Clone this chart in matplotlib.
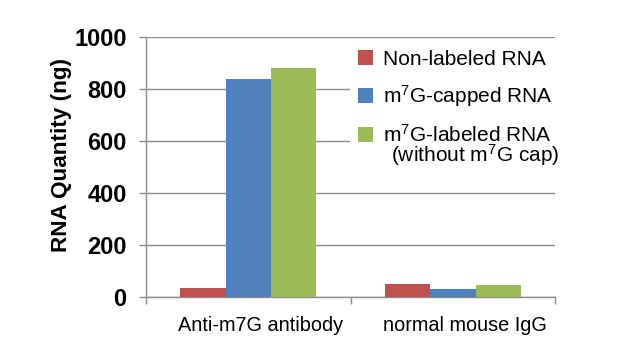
import numpy as np
import matplotlib
matplotlib.use("Agg")
import matplotlib.pyplot as plt

plt.rcParams['font.family'] = ['Liberation Sans', 'DejaVu Sans']
plt.rcParams['mathtext.fontset'] = 'custom'
plt.rcParams['mathtext.rm'] = 'Liberation Sans'
plt.rcParams['mathtext.it'] = 'Liberation Sans'

categories = ['Anti-m7G antibody', 'normal mouse IgG']
series = ['Non-labeled RNA', 'm$^7$G-capped RNA', 'm$^7$G-labeled RNA']
series_note = '(without m$^7$G cap)'
non_labeled = [36, 49]
capped = [837, 31]
labeled = [880, 46]
yticks = [0, 200, 400, 600, 800, 1000]

colors = ['#C0504D', '#4F81BD', '#9BBB59']
grey = '#8C8C8C'

fig = plt.figure(figsize=(6.28, 3.64), dpi=100)
ax = fig.add_axes([0.2325, 0.184, 0.6515, 0.714])

x = np.arange(len(categories))
w = 0.222
for i, (vals, lab) in enumerate(zip([non_labeled, capped, labeled], series)):
    ax.bar(x + (i - 1) * w, vals, w, color=colors[i], label=lab, zorder=3)

ax.set_xlim(-0.5, len(categories) - 0.5)
ax.set_ylim(0, 1000)
ax.set_yticks(yticks)
ax.set_yticklabels([str(v) for v in yticks], fontsize=17, fontweight='bold')
ax.yaxis.grid(True, color=grey, linewidth=1, zorder=0)

# category labels sit a little right of the group centre, as in the original
ax.set_xticks(x + 0.06)
ax.set_xticklabels(categories, fontsize=14.3)
ax.set_xticks(np.arange(-0.5, len(categories)), minor=True)
ax.tick_params(axis='x', which='major', length=0, pad=14)
ax.tick_params(axis='x', which='minor', length=5, color=grey, width=1)
ax.tick_params(axis='y', length=5, color=grey, width=1, pad=9)

for s in ['top', 'right']:
    ax.spines[s].set_visible(False)
for s in ['left', 'bottom']:
    ax.spines[s].set_color(grey)
    ax.spines[s].set_linewidth(1)

ax.set_ylabel('RNA Quantity (ng)', fontsize=16.2, fontweight='bold')
ax.yaxis.set_label_coords(-0.181, 0.546)

leg = ax.legend(loc='upper left', bbox_to_anchor=(0.498, 0.984), fontsize=15,
                frameon=True, framealpha=1, edgecolor='white', fancybox=False,
                handlelength=0.72, handleheight=0.72, handletextpad=0.48,
                labelspacing=0.7, borderpad=0.4, borderaxespad=0)
leg.get_frame().set_linewidth(0)
leg.set_zorder(5)
ax.text(0.599, 0.545, series_note, transform=ax.transAxes, fontsize=15,
        va='center', ha='left', zorder=6)

fig.savefig('out.png', dpi=100)
